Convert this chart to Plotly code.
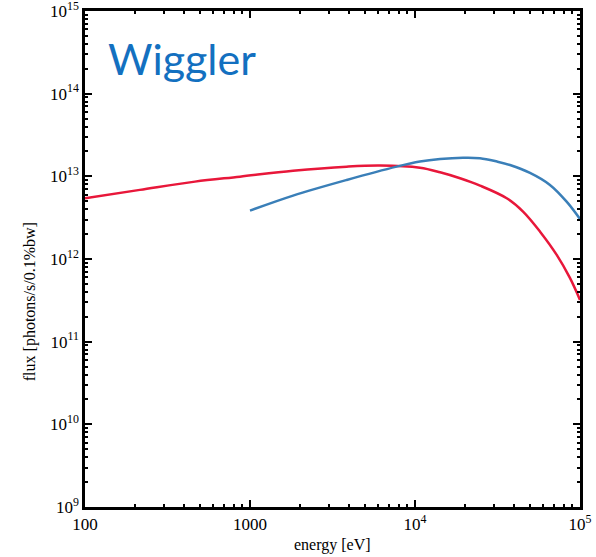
import plotly.graph_objects as go

# Data (energy in eV, flux in photons/s/0.1%bw)
red_energy = [100, 215, 464, 869, 1824, 3855, 6138, 10715, 14190, 18750, 24770,
              35970, 45190, 57280, 72280, 86900, 100000]
red_flux = [5.43e12, 6.86e12, 8.63e12, 9.91e12, 1.17e13, 1.31e13, 1.35e13, 1.27e13,
            1.12e13, 9.48e12, 7.73e12, 5.43e12, 3.74e12, 2.14e12, 1.12e12,
            5.90e11, 3.2e11]

blue_energy = [1000, 1824, 3855, 7745, 10715, 14190, 19540, 24770, 31410, 37670,
               49770, 65770, 82990, 100000]
blue_flux = [3.85e12, 5.85e12, 9.04e12, 1.31e13, 1.51e13, 1.62e13, 1.68e13, 1.66e13,
             1.51e13, 1.37e13, 1.10e13, 7.87e12, 4.94e12, 3.05e12]

x_tickvals = [100, 1000, 1e4, 1e5]
x_ticktext = ["100", "1000", "10<sup>4</sup>", "10<sup>5</sup>"]
y_tickvals = [1e9, 1e10, 1e11, 1e12, 1e13, 1e14, 1e15]
y_ticktext = ["10<sup>%d</sup>" % p for p in range(9, 16)]

x_minor = [m * 10 ** d for d in range(2, 5) for m in range(2, 10)]
y_minor = [m * 10 ** d for d in range(9, 15) for m in range(2, 10)]

SERIF = "Liberation Serif, Times New Roman, serif"

fig = go.Figure()
fig.add_trace(go.Scatter(x=red_energy, y=red_flux, mode="lines",
                         line=dict(color="#e8173a", width=2.5, shape="spline", smoothing=1),
                         showlegend=False))
fig.add_trace(go.Scatter(x=blue_energy, y=blue_flux, mode="lines",
                         line=dict(color="#3a7fb8", width=2.5, shape="spline", smoothing=1),
                         showlegend=False))

axis_common = dict(
    showgrid=False, zeroline=False, showline=True, linecolor="black", linewidth=2.5,
    mirror="allticks", ticks="inside", ticklen=7, tickwidth=2, tickcolor="black",
    tickfont=dict(family=SERIF, size=17, color="black"), automargin=False,
    ticklabeloverflow="allow",
)

fig.update_xaxes(type="log", range=[1.9999, 5.0001], tickmode="array",
                 tickvals=x_tickvals, ticktext=x_ticktext,
                 minor=dict(tickmode="array", tickvals=x_minor, ticks="inside",
                            ticklen=3, tickwidth=1.5, tickcolor="black"),
                 **axis_common)
fig.update_yaxes(type="log", range=[8.9999, 15.0001], tickmode="array",
                 tickvals=y_tickvals, ticktext=y_ticktext,
                 minor=dict(tickmode="array", tickvals=y_minor, ticks="inside",
                            ticklen=3, tickwidth=1.5, tickcolor="black"),
                 **axis_common)

fig.add_annotation(text="Wiggler", xref="paper", yref="paper", x=0.042, y=0.905,
                   xanchor="left", yanchor="middle", showarrow=False,
                   font=dict(family="Lato", size=43, color="#1370c0"))
fig.add_annotation(text="flux [photons/s/0.1%bw]", xref="paper", yref="paper",
                   x=-0.111, y=0.413, textangle=-90, showarrow=False,
                   xanchor="center", yanchor="middle",
                   font=dict(family=SERIF, size=16, color="black"))
fig.add_annotation(text="energy [eV]", xref="paper", yref="paper",
                   x=0.50, y=-0.077, showarrow=False,
                   xanchor="center", yanchor="middle",
                   font=dict(family=SERIF, size=16, color="black"))

fig.update_layout(width=596, height=557, margin=dict(l=85, r=16, t=11, b=50),
                  plot_bgcolor="white", paper_bgcolor="white")

fig.write_html("out.html")
